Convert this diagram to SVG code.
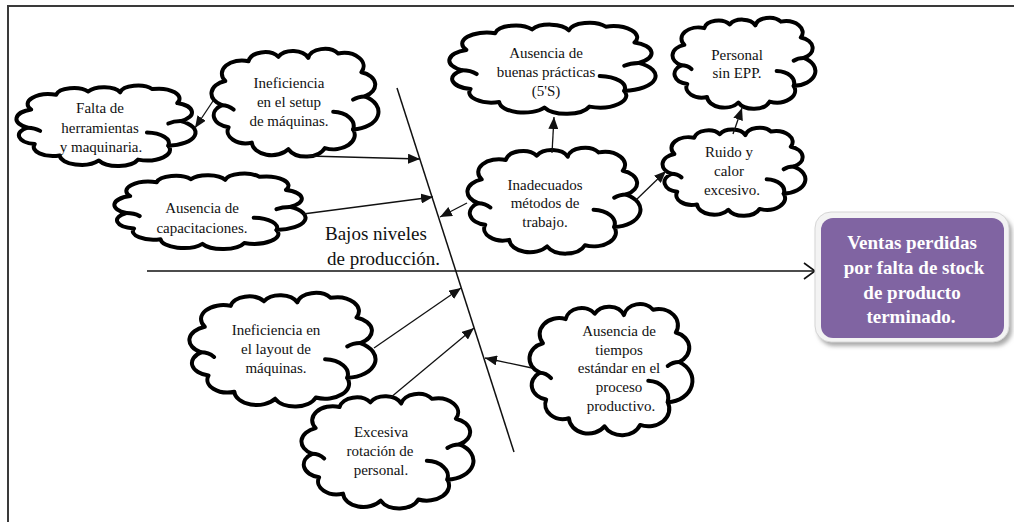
<svg xmlns="http://www.w3.org/2000/svg" xmlns:xlink="http://www.w3.org/1999/xlink" width="1014" height="522" viewBox="0 0 1014 522">
  <style>
    .cloud { fill: #ffffff; stroke: #000000; stroke-width: 4; stroke-linejoin: round; stroke-linecap: round; }
    .curl { fill: none; stroke: #000000; stroke-width: 4; stroke-linecap: round; }
    .txt { font-size: 15px; fill: #111111; text-anchor: middle; }
    .spine-lbl { font-size: 19px; fill: #111111; }
    .effect { font-size: 19px; font-weight: bold; fill: #ffffff; text-anchor: middle; }
    .conn { stroke: #111111; stroke-width: 1.3; fill: none; marker-end: url(#head); }
    .bone { stroke: #111111; stroke-width: 1.5; fill: none; }
    .frame { stroke: #3a3a3a; stroke-width: 2; fill: none; }
  </style>
  <defs>
    <!-- unit cloud outline (0..100 box), scaled per node -->
    <g id="cloudShape">
      <path class="cloud" vector-effect="non-scaling-stroke" d="M 6 52 A 12 12 0 0 1 8 30 A 12 12 0 0 1 22 12 A 10 10 0 0 1 40 8 A 10 10 0 0 1 58 9 A 10 10 0 0 1 76 5 A 12 12 0 0 1 90 22 A 12 12 0 0 1 92 44 A 16 16 0 0 1 85 74 A 13 13 0 0 1 68 91 A 12 12 0 0 1 46 92 A 12 12 0 0 1 24 86 A 11 11 0 0 1 10 72 A 11 11 0 0 1 6 52 Z"/>
      <path class="curl" vector-effect="non-scaling-stroke" d="M 6 52 Q 10 52 13 56 M 92 44 Q 88 44 85 47 M 73 58 A 13 13 0 0 1 85 74"/>
    </g>
    <marker id="head" markerUnits="userSpaceOnUse" markerWidth="13" markerHeight="10" refX="12" refY="5" orient="auto">
      <path d="M 0 0 L 12 5 L 0 10 Z" fill="#111111"/>
    </marker>
    <marker id="openHead" markerUnits="userSpaceOnUse" markerWidth="14" markerHeight="18" refX="12" refY="9" orient="auto">
      <path d="M 1 1 L 12 9 L 1 17" fill="none" stroke="#111111" stroke-width="1.6"/>
    </marker>
    <filter id="soft" x="-10%" y="-10%" width="120%" height="130%">
      <feGaussianBlur stdDeviation="2"/>
    </filter>
  </defs>

  <rect x="0" y="0" width="1014" height="522" fill="#ffffff"/>

  <!-- page frame -->
  <path class="frame" d="M 8 522 L 8 6 L 1014 6"/>

  <g font-family="Liberation Serif, Times New Roman, serif">
  <!-- fishbone spine and main rib -->
  <g id="spine">
    <line class="bone" x1="147" y1="271" x2="815" y2="271" marker-end="url(#openHead)"/>
    <line class="bone" x1="397" y1="88" x2="514" y2="452"/>
    <text class="spine-lbl" x="325" y="240">Bajos niveles</text>
    <text class="spine-lbl" x="327" y="265">de producción.</text>
  </g>

  <!-- causes -->
  <g id="falta-herramientas">
    <use xlink:href="#cloudShape" transform="translate(17,85) scale(1.78,0.82)"/>
    <text class="txt" x="100" y="113">Falta de</text>
    <text class="txt" x="100" y="133">herramientas</text>
    <text class="txt" x="101" y="152">y maquinaria.</text>
  </g>

  <g id="ineficiencia-setup">
    <use xlink:href="#cloudShape" transform="translate(212,48) scale(1.66,1.10)"/>
    <text class="txt" x="289" y="88">Ineficiencia</text>
    <text class="txt" x="289" y="107">en el setup</text>
    <text class="txt" x="289" y="126">de máquinas.</text>
  </g>

  <g id="ausencia-capacitaciones">
    <use xlink:href="#cloudShape" transform="translate(115,173) scale(1.90,0.77)"/>
    <text class="txt" x="202" y="213">Ausencia de</text>
    <text class="txt" x="202" y="233">capacitaciones.</text>
  </g>

  <g id="buenas-practicas">
    <use xlink:href="#cloudShape" transform="translate(450,22) scale(2.05,0.93)"/>
    <text class="txt" x="546" y="58">Ausencia de</text>
    <text class="txt" x="546" y="77">buenas prácticas</text>
    <text class="txt" x="546" y="96">(5'S)</text>
  </g>

  <g id="personal-epp">
    <use xlink:href="#cloudShape" transform="translate(673,17) scale(1.42,0.93)"/>
    <text class="txt" x="737" y="60">Personal</text>
    <text class="txt" x="737" y="78">sin EPP.</text>
  </g>

  <g id="metodos-trabajo">
    <use xlink:href="#cloudShape" transform="translate(468,147) scale(1.72,1.08)"/>
    <text class="txt" x="545" y="190">Inadecuados</text>
    <text class="txt" x="545" y="208">métodos de</text>
    <text class="txt" x="545" y="227">trabajo.</text>
  </g>

  <g id="ruido-calor">
    <use xlink:href="#cloudShape" transform="translate(663,127) scale(1.42,0.90)"/>
    <text class="txt" x="729" y="157">Ruido y</text>
    <text class="txt" x="729" y="176">calor</text>
    <text class="txt" x="732" y="195">excesivo.</text>
  </g>

  <g id="layout-maquinas">
    <use xlink:href="#cloudShape" transform="translate(190,292) scale(1.85,1.16)"/>
    <text class="txt" x="276" y="335">Ineficiencia en</text>
    <text class="txt" x="276" y="354">el layout de</text>
    <text class="txt" x="276" y="373">máquinas.</text>
  </g>

  <g id="rotacion-personal">
    <use xlink:href="#cloudShape" transform="translate(302,393) scale(1.71,1.17)"/>
    <text class="txt" x="381" y="437">Excesiva</text>
    <text class="txt" x="380" y="456">rotación de</text>
    <text class="txt" x="381" y="475">personal.</text>
  </g>

  <g id="tiempos-estandar">
    <use xlink:href="#cloudShape" transform="translate(530,303) scale(1.62,1.34)"/>
    <text class="txt" x="619" y="336">Ausencia de</text>
    <text class="txt" x="619" y="355">tiempos</text>
    <text class="txt" x="619" y="373">estándar en el</text>
    <text class="txt" x="619" y="392">proceso</text>
    <text class="txt" x="621" y="411">productivo.</text>
  </g>

  <!-- effect box -->
  <g id="efecto">
    <rect x="818" y="216" width="194" height="130" rx="16" fill="#a9a9a9" filter="url(#soft)"/>
    <rect x="815" y="212" width="194" height="130" rx="16" fill="#f3f3f3" stroke="#d6d6d6" stroke-width="1"/>
    <rect x="821" y="218" width="183" height="120" rx="12" fill="#8064a2"/>
    <text class="effect" x="912" y="249">Ventas perdidas</text>
    <text class="effect" x="914" y="274">por falta de stock</text>
    <text class="effect" x="912" y="299">de producto</text>
    <text class="effect" x="911" y="323">terminado.</text>
  </g>
  </g>

  <!-- connectors -->
  <g id="connectors">
    <line class="conn" x1="308" y1="156" x2="420" y2="159"/>
    <line class="conn" x1="303" y1="214" x2="433" y2="197"/>
    <line class="conn" x1="467" y1="203" x2="440" y2="217"/>
    <line class="conn" x1="552" y1="153" x2="554" y2="117"/>
    <line class="conn" x1="636" y1="200" x2="666" y2="171"/>
    <line class="conn" x1="733" y1="134" x2="742" y2="108"/>
    <line class="conn" x1="213" y1="101" x2="195" y2="128"/>
    <line class="conn" x1="374" y1="348" x2="461" y2="288"/>
    <line class="conn" x1="390" y1="398" x2="474" y2="328"/>
    <line class="conn" x1="532" y1="368" x2="485" y2="358"/>
  </g>
</svg>
